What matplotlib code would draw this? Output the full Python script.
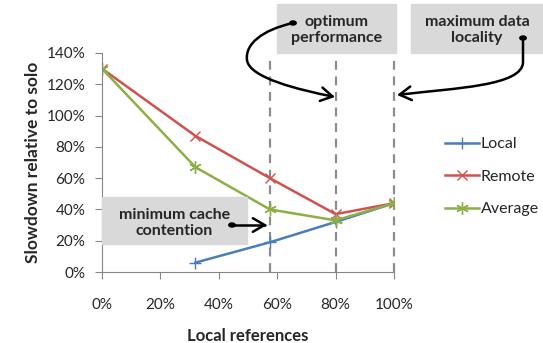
import matplotlib.pyplot as plt
from matplotlib.patches import FancyArrowPatch, Rectangle
from matplotlib.path import Path
from matplotlib.ticker import PercentFormatter

plt.rcParams['font.family'] = ['Lato', 'DejaVu Sans']

local_x = [32, 57.5, 80, 100]
local_y = [6, 19, 32, 44]
remote_x = [0, 32, 57.5, 80, 100]
remote_y = [130, 87, 60, 37, 44]
avg_x = [0, 32, 57.5, 80, 100]
avg_y = [130, 67, 40, 33, 44]
marks = [57.5, 80, 100]

W, H = 543, 343
fig = plt.figure(figsize=(W / 100, H / 100), dpi=100)
ax = fig.add_axes([102 / W, 1 - 272 / H, 292 / W, 219 / H])

ax.plot(local_x, local_y, color='#4a7ebb', lw=1.8, marker='+', ms=8, mew=1, label='Local')
ax.plot(remote_x, remote_y, color='#d0524e', lw=1.8, marker='x', ms=7, mew=1, label='Remote')
ax.plot(avg_x, avg_y, color='#8cb045', lw=1.8, marker=(6, 2, 0), ms=9, mew=1, label='Average')

for m in marks:
    ax.plot([m, m], [0, 138], color='#8c8c8c', lw=1.6, ls=(0, (4, 3)), clip_on=False, zorder=0)

ax.set_xlim(0, 100)
ax.set_ylim(0, 140)
ax.set_xticks(range(0, 101, 20))
ax.set_yticks(range(0, 141, 20))
ax.xaxis.set_major_formatter(PercentFormatter(decimals=0))
ax.yaxis.set_major_formatter(PercentFormatter(decimals=0))
for s in ['top', 'right']:
    ax.spines[s].set_visible(False)
for s in ['left', 'bottom']:
    ax.spines[s].set_color('#868686')
ax.tick_params(colors='#868686', labelcolor='#262626', labelsize=11, length=5)
ax.tick_params(axis='x', pad=14)
ax.tick_params(axis='y', pad=7)
ax.set_xlabel('Local references', fontsize=12, fontweight='bold', color='#262626', labelpad=11)
ax.set_ylabel('Slowdown relative to solo', fontsize=12.5, fontweight='bold', color='#262626', labelpad=4)

leg = ax.legend(loc='upper left', bbox_to_anchor=(445 / W, 1 - 137 / H), bbox_transform=fig.transFigure,
                frameon=False, fontsize=11.5, handlelength=2.1, handletextpad=0.15, labelspacing=1.15,
                borderpad=0, borderaxespad=0)
for t in leg.get_texts():
    t.set_color('#262626')


def px(x, y):
    return (x / W, 1 - y / H)


def box(x0, y0, x1, y1, text, cy):
    fig.patches.append(Rectangle(px(x0, y1), (x1 - x0) / W, (y1 - y0) / H,
                                 transform=fig.transFigure, color='#d9d9d9', zorder=0))
    fig.text((x0 + x1) / 2 / W, 1 - cy / H, text, ha='center', va='center', fontsize=11.5,
             fontweight='bold', color='#262626', linespacing=1.25)


box(277, 4, 396, 53, 'optimum\nperformance', 30)
box(411, 4, 543, 53, 'maximum data\nlocality', 30)
box(102, 197, 247, 244, 'minimum cache\ncontention', 223)


def curve(verts, codes):
    p = Path([px(*v) for v in verts], codes)
    a = FancyArrowPatch(path=p, arrowstyle='->,head_length=6,head_width=3.5', lw=1.8,
                        color='black', transform=fig.transFigure, mutation_scale=1.4)
    fig.patches.append(a)


C = Path.CURVE4
curve([(293, 23), (262, 30), (245, 44), (247, 60), (249, 78), (300, 90), (335, 97)],
      [Path.MOVETO, C, C, C, C, C, C])
curve([(523, 38), (523, 62), (523, 86), (455, 88), (397, 95)],
      [Path.MOVETO, Path.LINETO, C, C, C])
curve([(232, 225), (267, 225)], [Path.MOVETO, Path.LINETO])

for x, y in [(293, 23), (523, 38), (232, 225)]:
    fig.patches.append(plt.Circle(px(x, y), 3.2 / W, transform=fig.transFigure, color='black'))

fig.savefig('out.png', dpi=100)
